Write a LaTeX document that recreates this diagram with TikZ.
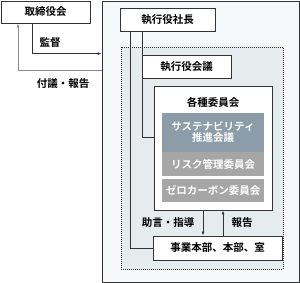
\documentclass[tikz,border=0pt]{standalone}
\usepackage{fontspec}
\setmainfont{Noto Sans CJK JP}[BoldFont={Noto Sans CJK JP Bold}]
\usetikzlibrary{arrows.meta}
\definecolor{edge}{HTML}{333333}
\definecolor{outerfill}{HTML}{F7F8F9}
\definecolor{dashfill}{HTML}{E6EBEE}
\definecolor{susfill}{HTML}{8C9DA9}
\definecolor{greyfill}{HTML}{A6A6A6}
\definecolor{greyline}{HTML}{8A8A8A}
\begin{document}
\begin{tikzpicture}[x=1pt,y=-1pt,
  every node/.style={font=\bfseries\fontsize{10.5}{12}\selectfont, inner sep=0pt},
  wbox/.style={draw=edge, line width=0.8pt, fill=white, rectangle},
  gbox/.style={rectangle, text=white},
  conn/.style={draw=edge, line width=0.8pt},
  arr/.style={conn, -{Latex[length=4pt,width=3pt]}}
]
\useasboundingbox (0,0) rectangle (300,283);
\node[draw=edge, line width=0.8pt, fill=outerfill, minimum width=197pt, minimum height=281pt] (outer) at (200.5,141.5) {};
\node[draw=edge, line width=0.5pt, dash pattern=on 1pt off 1pt, fill=dashfill, minimum width=162pt, minimum height=222pt] (dash) at (202,158) {};
\node[wbox, minimum width=89pt, minimum height=22pt] (board) at (45.5,12) {取締役会};
\node[wbox, minimum width=95pt, minimum height=23pt] (ceo) at (167.5,19.5) {執行役社長};
\node[wbox, minimum width=129pt, minimum height=24pt] (biz) at (217.5,248) {事業本部、本部、室};
\draw[conn] ([xshift=-37.5pt]ceo.south) |- (biz.west);
\node[wbox, minimum width=89pt, minimum height=23pt] (exec) at (186.5,66.5) {執行役会議};
\node[wbox, minimum width=118pt, minimum height=124pt] (comm) at (213,148) {};
\draw[conn] ([xshift=-25.5pt]ceo.south) |- ([yshift=11pt]comm.west);
\node (commtitle) at (213,102) {各種委員会};
\node[gbox, fill=susfill, minimum width=102pt, minimum height=39pt, align=center] (sus) at (213,132.5) {サステナビリティ\\[-1pt]推進会議};
\node[gbox, fill=greyfill, minimum width=102pt, minimum height=24pt] (risk) at (213,164) {リスク管理委員会};
\node[gbox, fill=greyfill, minimum width=102pt, minimum height=23pt] (zero) at (213,190.5) {ゼロカーボン委員会};
\draw[arr] ([xshift=-10pt]comm.south) -- ([xshift=-10pt]comm.south |- biz.north);
\draw[arr] ([xshift=10pt]comm.south |- biz.north) -- ([xshift=10pt]comm.south);
\node (advice) at (168,223) {助言・指導};
\node (report) at (242,223) {報告};
\draw[arr] ([xshift=-13.5pt]board.south) |- ([yshift=-53pt]outer.north west);
\draw[draw=greyline, line width=0.8pt, -{Latex[length=4pt,width=3pt]}] ([yshift=-70pt]outer.north west) -| ([xshift=-27.5pt]board.south);
\node (supervise) at (50,43) {監督};
\node (submit) at (63,84) {付議・報告};
\end{tikzpicture}
\end{document}
